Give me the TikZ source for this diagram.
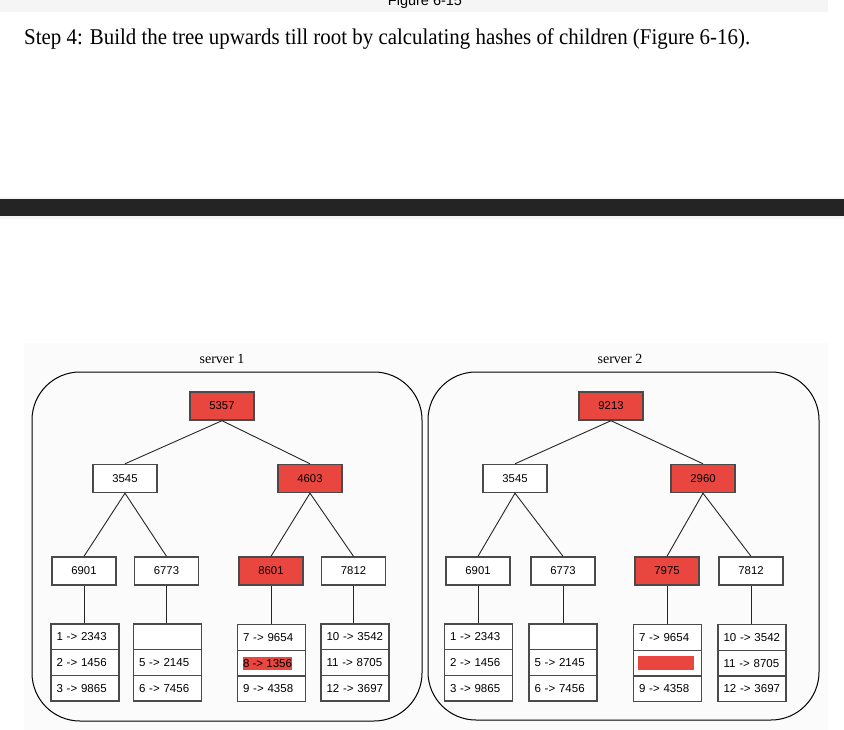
\documentclass[tikz,border=0pt]{standalone}
\usepackage{fontspec}
\usepackage{graphicx}
\setmainfont{Liberation Serif}
\setsansfont{Liberation Sans}
\usetikzlibrary{positioning}
\definecolor{hashred}{HTML}{E8463F}
\definecolor{framegray}{HTML}{4A4A4A}
\definecolor{bargray}{HTML}{242424}
\definecolor{panelgray}{HTML}{FBFBFB}
\definecolor{bandgray}{HTML}{F5F5F5}

\begin{document}
\begin{tikzpicture}[x=1pt,y=-1pt,
  hash/.style={draw=framegray, line width=1.4pt, fill=white, minimum width=64pt,
    minimum height=28pt, inner sep=0pt, font=\sffamily\fontsize{11.3}{13}\selectfont},
  hot/.style={hash, fill=hashred},
  cell/.style={draw=framegray, line width=1.3pt, fill=white, minimum width=68pt,
    text width=57pt, minimum height=25.7pt, inner xsep=5.5pt, inner ysep=0pt,
    align=left, font=\sffamily\fontsize{11.5}{13}\selectfont},
  link/.style={draw=black!85, line width=0.9pt},
  server/.style={draw=black, line width=1pt, rounded corners=48pt},
  serverlabel/.style={font=\fontsize{14}{16}\selectfont, inner sep=0pt},
  mark red/.style={fill=hashred, inner xsep=0.5pt, inner ysep=0pt, minimum height=13pt,
    font=\sffamily\fontsize{11.5}{13}\selectfont},
]
\useasboundingbox (0,0) rectangle (844,730);

% page furniture above the figure
\fill[bandgray] (0,0) rectangle (828,12);
\node[anchor=base, inner sep=0pt, font=\sffamily\fontsize{14.5}{16}\selectfont]
  (figcap) at (425,6) {Figure 6-15};
\node[anchor=base west, inner sep=0pt] (heading) at (24,45)
  {\resizebox{726pt}{\height}{\fontsize{22.5}{26}\selectfont Step 4: Build the tree upwards till root by calculating hashes of children (Figure 6-16).}};
\fill[bandgray] (0,197) rectangle (844,219);
\fill[bargray] (0,199.5) rectangle (844,216.5);

% figure panel
\fill[panelgray] (24,343) rectangle (828,730);
\node[serverlabel] (s1lbl) at (222,359) {server 1};
\node[serverlabel] (s2lbl) at (620,359) {server 2};
\draw[server] (32,372) rectangle (422,721);
\draw[server] (428,372) rectangle (819,720);

% ---------- server 1 ----------
\node[hot]  (a) at (222,406) {5357};
\node[hash] (a1) at (125,478.5) {3545};
\node[hot]  (a2) at (310,478.5) {4603};
\node[hash] (a11) at (84,571) {6901};
\node[hash] (a12) at (166.5,571) {6773};
\node[hot]  (a21) at (271,571) {8601};
\node[hash] (a22) at (353.5,571) {7812};

\node[cell] (ta1a) at (85,636.8) {1 -> 2343};
\node[cell] (ta1b) at (85,662.5) {2 -> 1456};
\node[cell] (ta1c) at (85,688.2) {3 -> 9865};
\node[cell] (ta2a) at (167.5,636.8) {};
\node[cell] (ta2b) at (167.5,662.5) {5 -> 2145};
\node[cell] (ta2c) at (167.5,688.2) {6 -> 7456};
\node[cell] (ta3a) at (271.5,637.5) {7 -> 9654};
\node[cell] (ta3b) at (271.5,663.2) {};
\node[cell] (ta3c) at (271.5,688.9) {9 -> 4358};
\node[cell] (ta4a) at (355,636.8) {10 -> 3542};
\node[cell] (ta4b) at (355,662.5) {11 -> 8705};
\node[cell] (ta4c) at (355,688.2) {12 -> 3697};
\node[mark red, anchor=west] (ta3mark) at ([xshift=5.5pt]ta3b.west) {8 -> 1356};

\draw[link] (a.south) -- (a1.north);
\draw[link] (a.south) -- (a2.north);
\draw[link] (a1.south) -- (a11.north);
\draw[link] (a1.south) -- (a12.north);
\draw[link] (a2.south) -- (a21.north);
\draw[link] (a2.south) -- (a22.north);
\draw[link] (a11.south) -- (a11.south |- ta1a.north);
\draw[link] (a12.south) -- (a12.south |- ta2a.north);
\draw[link] (a21.south) -- (a21.south |- ta3a.north);
\draw[link] (a22.south) -- (a22.south |- ta4a.north);

% ---------- server 2 ----------
\node[hot]  (b) at (611,406) {9213};
\node[hash] (b1) at (515,478.5) {3545};
\node[hot]  (b2) at (703,478.5) {2960};
\node[hash] (b11) at (478,571) {6901};
\node[hash] (b12) at (563,571) {6773};
\node[hot]  (b21) at (667,571) {7975};
\node[hash] (b22) at (751,571) {7812};

\node[cell] (tb1a) at (478.5,636.8) {1 -> 2343};
\node[cell] (tb1b) at (478.5,662.5) {2 -> 1456};
\node[cell] (tb1c) at (478.5,688.2) {3 -> 9865};
\node[cell] (tb2a) at (563,636.8) {};
\node[cell] (tb2b) at (563,662.5) {5 -> 2145};
\node[cell] (tb2c) at (563,688.2) {6 -> 7456};
\node[cell] (tb3a) at (667.5,637.5) {7 -> 9654};
\node[cell] (tb3b) at (667.5,663.2) {};
\node[cell] (tb3c) at (667.5,688.9) {9 -> 4358};
\node[cell] (tb4a) at (752,637.5) {10 -> 3542};
\node[cell] (tb4b) at (752,663.2) {11 -> 8705};
\node[cell] (tb4c) at (752,688.9) {12 -> 3697};
\node[fill=hashred, inner sep=0pt, minimum width=56pt, minimum height=14pt, anchor=west]
  (tb3mark) at ([xshift=5pt]tb3b.west) {};

\draw[link] (b.south) -- (b1.north);
\draw[link] (b.south) -- (b2.north);
\draw[link] (b1.south) -- (b11.north);
\draw[link] (b1.south) -- (b12.north);
\draw[link] (b2.south) -- (b21.north);
\draw[link] (b2.south) -- (b22.north);
\draw[link] (b11.south) -- (b11.south |- tb1a.north);
\draw[link] (b12.south) -- (b12.south |- tb2a.north);
\draw[link] (b21.south) -- (b21.south |- tb3a.north);
\draw[link] (b22.south) -- (b22.south |- tb4a.north);
\end{tikzpicture}
\end{document}
